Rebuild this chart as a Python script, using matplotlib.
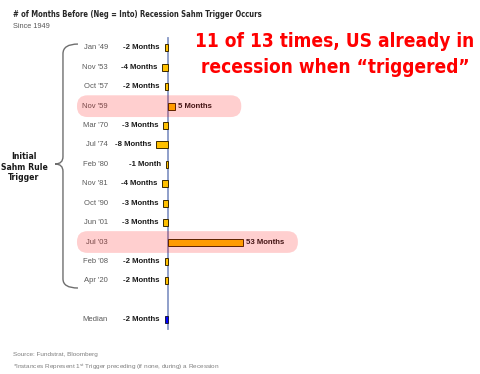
import matplotlib
matplotlib.use("Agg")
import matplotlib.pyplot as plt
from matplotlib.patches import FancyBboxPatch, PathPatch
from matplotlib.path import Path

# data
dates = ["Jan '49", "Nov '53", "Oct '57", "Nov '59", "Mar '70", "Jul '74", "Feb '80",
         "Nov '81", "Oct '90", "Jun '01", "Jul '03", "Feb '08", "Apr '20"]
months = [-2, -4, -2, 5, -3, -8, -1, -4, -3, -3, 53, -2, -2]
median_label = "Median"
median_value = -2
highlighted = ["Nov '59", "Jul '03"]

NARROW = ["DejaVu Sans"]
plt.rcParams["font.family"] = ["Liberation Sans", "DejaVu Sans"]
plt.rcParams["mathtext.fontset"] = "custom"
plt.rcParams["mathtext.rm"] = "Liberation Sans"


def month_text(v):
    return f"{v} Month" + ("" if abs(v) == 1 else "s")


def main():
    fig = plt.figure(figsize=(4.8, 3.74), dpi=100)
    ax = fig.add_axes([0, 0, 1, 1])
    ax.set_xlim(-118.5, 220.7)
    ax.set_ylim(16.8, -2.47)
    ax.axis("off")

    rows = list(range(len(dates)))
    median_row = len(dates) + 1

    # bars
    ax.barh(rows, months, height=0.36, color="#ffc000", edgecolor="#3a2a00",
            linewidth=0.7, zorder=3)
    ax.barh([median_row], [median_value], height=0.36, color="#0000ff",
            edgecolor="#1a1a40", linewidth=0.7, zorder=3)

    # zero line
    ax.plot([0, 0], [-0.52, 14.48], color="#8797c6", lw=1.3, zorder=2)

    # labels
    for r, d, v in zip(rows + [median_row], dates + [median_label],
                       months + [median_value]):
        ax.text(-42.2, r, d, ha="right", va="center", fontsize=5.5,
                color="#595959", zorder=4)
        if v < 0:
            ax.text(v - 3.5, r, month_text(v), ha="right", va="center",
                    fontsize=5.6, fontweight="bold", color="#1a1a1a", zorder=4)
        else:
            ax.text(v + 2.6, r, month_text(v), ha="left", va="center",
                    fontsize=5.6, fontweight="bold", color="#1a1a1a", zorder=4)

    # pink highlights (semi-transparent overlay)
    for d in highlighted:
        r = dates.index(d)
        right = max(months[r], 0) + (47 if months[r] < 20 else 39)
        box = FancyBboxPatch((-64.1, r - 0.56), right + 64.1, 1.12,
                             boxstyle="round,pad=0,rounding_size=7.4",
                             mutation_aspect=0.0729, fc="#ff0000", ec="none",
                             alpha=0.19, zorder=5)
        ax.add_patch(box)

    # curly brace
    xv, xe, xp = -74.0, -63.4, -79.6
    verts = [(xe, -0.2), (xv, -0.2), (xv, 0.3),
             (xv, 5.6), (xv, 5.98), (xp, 5.98),
             (xv, 5.98), (xv, 6.36),
             (xv, 11.9), (xv, 12.37), (xe, 12.37)]
    codes = [Path.MOVETO, Path.CURVE3, Path.CURVE3,
             Path.LINETO, Path.CURVE3, Path.CURVE3,
             Path.CURVE3, Path.CURVE3,
             Path.LINETO, Path.CURVE3, Path.CURVE3]
    ax.add_patch(PathPatch(Path(verts, codes), fc="none", ec="#6e6e6e", lw=1.0))

    fig.text(24 / 480, 1 - 167 / 374, "Initial\nSahm Rule\nTrigger", ha="center",
             va="center", fontsize=6.2, fontweight="bold", family=NARROW,
             fontstretch="condensed", linespacing=1.25, color="#1a1a1a")

    # titles
    fig.text(12.7 / 480, 1 - 16.7 / 374,
             "# of Months Before (Neg = Into) Recession Sahm Trigger Occurs",
             ha="left", va="baseline", fontsize=5.5, fontweight="bold",
             family=NARROW, fontstretch="condensed", color="#262626")
    fig.text(12.7 / 480, 1 - 27.5 / 374, "Since 1949", ha="left", va="baseline",
             fontsize=5.3, color="#595959")

    fig.text(335 / 480, 1 - 47 / 374, "11 of 13 times, US already in",
             ha="center", va="baseline", fontsize=13.7, fontweight="bold",
             family=NARROW, fontstretch="condensed", color="#ff0000")
    fig.text(335 / 480, 1 - 73 / 374, "recession when \u201ctriggered\u201d",
             ha="center", va="baseline", fontsize=13.7, fontweight="bold",
             family=NARROW, fontstretch="condensed", color="#ff0000")

    # footer
    fig.text(13 / 480, 1 - 356 / 374, "Source: Fundstrat, Bloomberg", ha="left",
             va="baseline", fontsize=4.6, color="#7f7f7f")
    fig.text(13 / 480, 1 - 369 / 374,
             r"*Instances Represent 1$^{\mathrm{st}}$ Trigger preceding (if none, during) a Recession",
             ha="left", va="baseline", fontsize=4.6, color="#7f7f7f")

    fig.savefig("out.png", dpi=100)


if __name__ == "__main__":
    main()
